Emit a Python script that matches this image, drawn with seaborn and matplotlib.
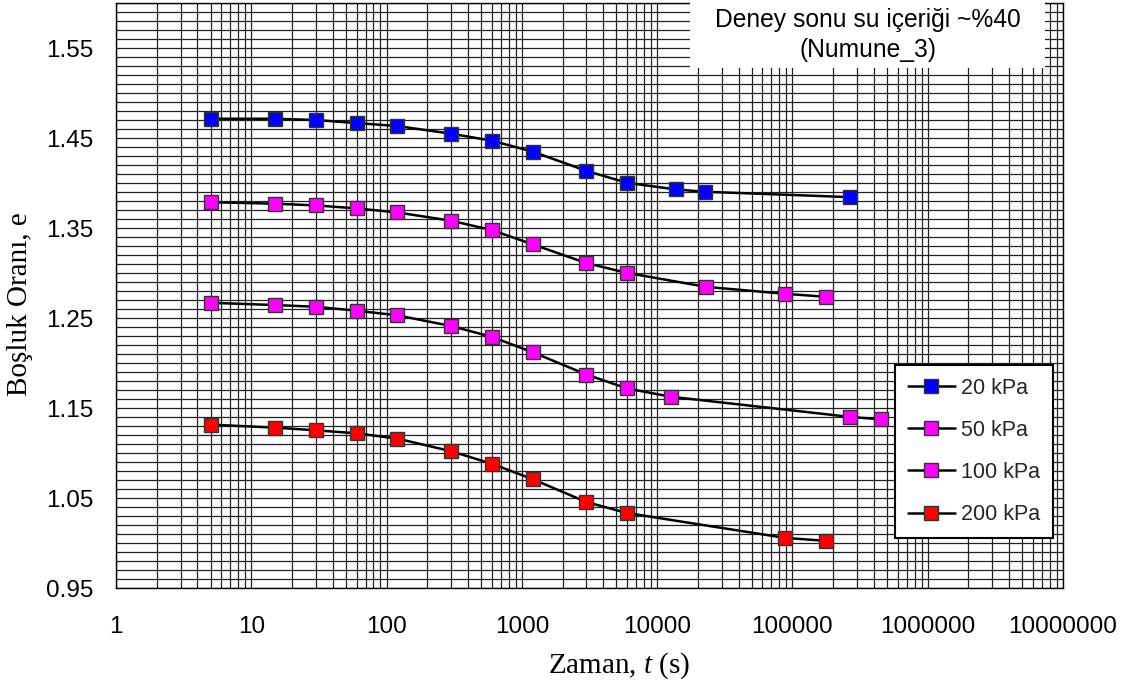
import matplotlib
matplotlib.use("Agg")
import matplotlib.pyplot as plt
import matplotlib.ticker as mticker
from matplotlib.patches import Rectangle
import numpy as np
import pandas as pd
import seaborn as sns

# Consolidation test: void ratio against elapsed time for each load stage
t_20 = [5, 15, 30, 60, 120, 300, 600, 1200, 3000, 6000, 13800, 22500, 266000]
e_20 = [1.4714, 1.4714, 1.4700, 1.4666, 1.4633, 1.4548, 1.4470, 1.4349,
        1.4135, 1.4002, 1.3928, 1.3903, 1.3843]

t_50 = [5, 15, 30, 60, 120, 300, 600, 1200, 3000, 6000, 23000, 88000, 176000]
e_50 = [1.3787, 1.3770, 1.3751, 1.3718, 1.3673, 1.3581, 1.3477, 1.3319,
        1.3110, 1.3001, 1.2846, 1.2769, 1.2736]

t_100 = [5, 15, 30, 60, 120, 300, 600, 1200, 3000, 6000, 12650, 266000, 455000]
e_100 = [1.2669, 1.2644, 1.2625, 1.2581, 1.2530, 1.2411, 1.2290, 1.2120,
         1.1872, 1.1717, 1.1625, 1.1401, 1.1374]

t_200 = [5, 15, 30, 60, 120, 300, 600, 1200, 3000, 6000, 88000, 176000]
e_200 = [1.1315, 1.1282, 1.1252, 1.1219, 1.1160, 1.1020, 1.0880, 1.0710,
         1.0455, 1.0333, 1.0057, 1.0024]

series_labels = ["20 kPa", "50 kPa", "100 kPa", "200 kPa"]
series_colors = ["#0000FF", "#FF00FF", "#FF00FF", "#FF0000"]
series_t = [t_20, t_50, t_100, t_200]
series_e = [e_20, e_50, e_100, e_200]

x_ticks = [1, 10, 100, 1000, 10000, 100000, 1000000, 10000000]
y_ticks = [0.95, 1.05, 1.15, 1.25, 1.35, 1.45, 1.55]

sns.set_theme(style="white")
plt.rcParams["font.family"] = ["Liberation Sans", "DejaVu Sans"]
plt.rcParams["mathtext.fontset"] = "custom"
plt.rcParams["mathtext.rm"] = "Liberation Serif"
plt.rcParams["mathtext.it"] = "Liberation Serif:italic"

fig, ax = plt.subplots(figsize=(11.33, 7.0), dpi=100)
fig.subplots_adjust(left=0.1024, right=0.9382, bottom=0.16, top=0.9957)

frames = []
for lab, ts, es in zip(series_labels, series_t, series_e):
    frames.append(pd.DataFrame({"t": ts, "e": es, "stage": lab}))
df = pd.concat(frames, ignore_index=True)

for lab, col in zip(series_labels, series_colors):
    sub = df[df["stage"] == lab]
    sns.lineplot(data=sub, x="t", y="e", ax=ax, color="black", linewidth=1.8,
                 marker="s", markersize=10, markerfacecolor=col,
                 markeredgecolor="#333333", markeredgewidth=1.0,
                 label=lab, zorder=3)

ax.set_xscale("log")
ax.set_xlim(1, 1e7)
ax.set_ylim(0.95, 1.60)

ax.xaxis.set_major_locator(mticker.FixedLocator(x_ticks))
ax.xaxis.set_major_formatter(mticker.FuncFormatter(lambda v, p: f"{int(round(v))}"))
ax.xaxis.set_minor_locator(mticker.LogLocator(base=10, subs=np.arange(2, 10), numticks=20))
ax.xaxis.set_minor_formatter(mticker.NullFormatter())
ax.yaxis.set_major_locator(mticker.FixedLocator(y_ticks))
ax.yaxis.set_major_formatter(mticker.FormatStrFormatter("%.2f"))
ax.yaxis.set_minor_locator(mticker.MultipleLocator(0.01))

ax.grid(True, which="both", color="#222222", linewidth=0.9)
ax.set_axisbelow(True)
ax.tick_params(axis="both", which="major", direction="out", length=6.5,
               width=1.0, color="black", labelsize=17.5, labelcolor="black")
ax.tick_params(axis="x", which="major", pad=14)
ax.tick_params(axis="y", which="major", pad=10)
ax.tick_params(axis="both", which="minor", length=0)
for sp in ax.spines.values():
    sp.set_visible(True)
    sp.set_color("black")
    sp.set_linewidth(1.0)

ax.set_xlabel("Zaman, $t$ (s)", family="Liberation Serif", fontsize=21,
              color="black")
ax.xaxis.set_label_coords(0.531, -0.106)
ax.set_ylabel("Boşluk Oranı, e", family="Liberation Serif", fontsize=21,
              color="black")
ax.yaxis.set_label_coords(-0.0876, 0.486)

# white panel behind the test note, sitting over the grid
ax.add_patch(Rectangle((0.606, 0.889), 0.375, 0.12, transform=ax.transAxes,
                       facecolor="white", edgecolor="none", zorder=4,
                       clip_on=False))
ax.text(0.794, 0.945, "Deney sonu su içeriği ~%40\n(Numune_3)",
        transform=ax.transAxes, ha="center", va="center", fontsize=17.7,
        color="black", linespacing=1.3, zorder=5)

leg = ax.legend(loc="lower right", bbox_to_anchor=(0.9894, 0.0855),
                borderaxespad=0, fontsize=15.5, frameon=True, fancybox=False,
                framealpha=1, edgecolor="black", labelspacing=0.98,
                handlelength=2.2, handletextpad=0.28, borderpad=0.6)
leg.get_frame().set_linewidth(1.5)
leg.set_zorder(6)

fig.savefig("out.png", dpi=100, facecolor="white")
